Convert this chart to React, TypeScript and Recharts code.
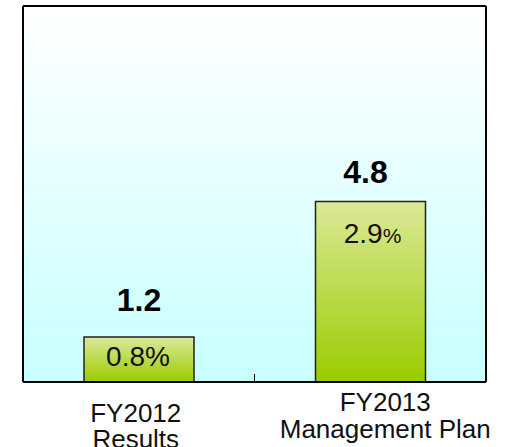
import React from 'react';
import { BarChart, Bar, XAxis, YAxis, CartesianGrid, LabelList } from 'recharts';

// chart data
const categories = [['FY2012', 'Results'], ['FY2013', 'Management Plan']];
const amounts = [1.2, 4.8];
const ratios = ['0.8', '2.9'];
const yDomain = [0, 10];

const data = categories.map((lines, i) => ({
  name: lines.join(' '),
  lines,
  amount: amounts[i],
  ratio: ratios[i],
}));

const FONT = '"Liberation Sans", Arial, sans-serif';

// small per-bar text nudges
const valueLift = [26, 19];
const valueShift = [0, -5];
const ratioDrop = [29, 41];
const ratioShift = [-1, 2];
const pctSize = [28, 21];
const tickShift = [-3, 15];
const tickDrop = [[40, 66], [29, 56]];

const frame = { stroke: '#000', strokeWidth: 2 };

const CategoryTick = (props: any) => {
  const { x, y, payload, width } = props;
  const i = payload.index;
  const row = data[i];
  if (!row) return null;
  const band = width / data.length;
  return (
    <g>
      {i > 0 && <line x1={x - band / 2} x2={x - band / 2} y1={y} y2={y - 8} stroke="#000" strokeWidth={1} />}
      {row.lines.map((line, k) => (
        <text
          key={k}
          x={x + tickShift[i]}
          y={y + tickDrop[i][k]}
          textAnchor="middle"
          fontFamily={FONT}
          fontSize={26}
          fill="#111"
        >
          {line}
        </text>
      ))}
    </g>
  );
};

const ValueLabel = (props: any) => {
  const { x, y, width, value, index } = props;
  return (
    <text
      x={x + width / 2 + valueShift[index]}
      y={y - valueLift[index]}
      textAnchor="middle"
      fontFamily={FONT}
      fontSize={32}
      fontWeight="bold"
      fill="#000"
    >
      {value}
    </text>
  );
};

const RatioLabel = (props: any) => {
  const { x, y, width, value, index } = props;
  return (
    <text
      x={x + width / 2 + ratioShift[index]}
      y={y + ratioDrop[index]}
      textAnchor="middle"
      fontFamily={FONT}
      fontSize={28}
      fill="#111"
    >
      {value}
      <tspan fontSize={pctSize[index]}>%</tspan>
    </text>
  );
};

export default function App() {
  return (
    <div style={{ position: 'absolute', left: 0, top: 0, width: 510, height: 447, overflow: 'hidden', background: '#fff' }}>
      <BarChart width={510} height={447} data={data} margin={{ top: 5, right: 23, bottom: 0, left: 22 }} barSize={110}>
        <defs>
          <linearGradient id="bgFill" x1="0" y1="0" x2="0" y2="1">
            <stop offset="0%" stopColor="#ffffff" />
            <stop offset="100%" stopColor="#c8ffff" />
          </linearGradient>
          <linearGradient id="barFill" x1="0" y1="0" x2="0" y2="1">
            <stop offset="0%" stopColor="#dbe996" />
            <stop offset="100%" stopColor="#99cc00" />
          </linearGradient>
        </defs>
        <CartesianGrid horizontal={false} vertical={false} fill="url(#bgFill)" />
        <XAxis
          dataKey="name"
          height={65}
          axisLine={frame}
          tickLine={false}
          tickSize={0}
          tickMargin={0}
          interval={0}
          tick={<CategoryTick />}
        />
        <XAxis xAxisId="top" orientation="top" dataKey="name" height={1} tick={false} tickLine={false} axisLine={frame} />
        <YAxis domain={yDomain} width={1} tick={false} tickLine={false} axisLine={frame} />
        <YAxis yAxisId="r" orientation="right" domain={yDomain} width={1} tick={false} tickLine={false} axisLine={frame} />
        <Bar dataKey="amount" fill="url(#barFill)" stroke="#222" strokeWidth={1.5} isAnimationActive={false}>
          <LabelList dataKey="amount" content={<ValueLabel />} />
          <LabelList dataKey="ratio" content={<RatioLabel />} />
        </Bar>
      </BarChart>
      <div
        style={{
          position: 'absolute',
          left: 202,
          top: -31,
          zIndex: 1,
          fontFamily: FONT,
          fontSize: 30,
          lineHeight: '30px',
          whiteSpace: 'nowrap',
          color: '#000',
        }}
      >
        Charges (bn yen)
      </div>
    </div>
  );
}
